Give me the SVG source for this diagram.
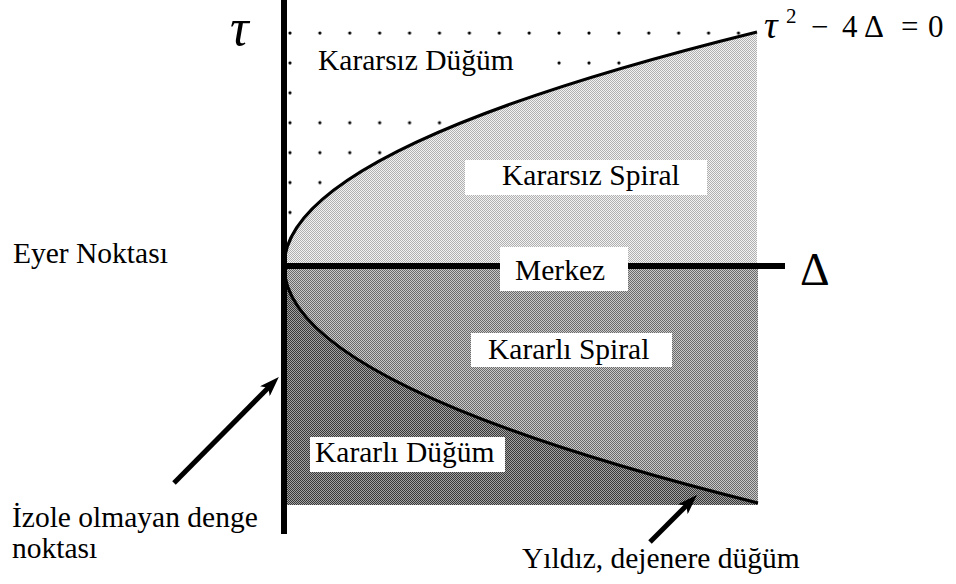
<svg xmlns="http://www.w3.org/2000/svg" width="956" height="584" viewBox="0 0 956 584">
<style>
text{font-family:'Liberation Serif','DejaVu Serif',serif}
.t{font-size:29.5px;fill:#000}
.box{fill:#fff}
.curve{fill:none;stroke:#000;stroke-width:3.2}
.axis{stroke:#000;stroke-width:6}
.arrow{stroke:#000;stroke-width:5;fill:none;marker-end:url(#ah)}
</style>
<defs>
<pattern id="dots" patternUnits="userSpaceOnUse" x="275" y="18" width="29.9" height="29.9">
<circle cx="15" cy="15" r="1.6" fill="#000"/>
</pattern>
<pattern id="light" patternUnits="userSpaceOnUse" x="0" y="0" width="2" height="2">
<rect width="2" height="2" fill="#f2f2f2"/>
<rect x="0" y="0" width="1" height="1" fill="#b0b0b0"/>
<rect x="1" y="1" width="1" height="1" fill="#b0b0b0"/>
</pattern>
<pattern id="medium" patternUnits="userSpaceOnUse" x="0" y="0" width="2" height="2">
<rect width="2" height="2" fill="#c8c8c8"/>
<rect x="0" y="0" width="1" height="1" fill="#6a6a6a"/>
<rect x="1" y="1" width="1" height="1" fill="#6a6a6a"/>
</pattern>
<pattern id="dark" patternUnits="userSpaceOnUse" x="0" y="0" width="2" height="2">
<rect width="2" height="2" fill="#a2a2a2"/>
<rect x="0" y="0" width="1" height="1" fill="#383838"/>
<rect x="1" y="1" width="1" height="1" fill="#383838"/>
</pattern>
<marker id="ah" viewBox="0 0 20 14" markerWidth="20" markerHeight="14" markerUnits="userSpaceOnUse" refX="6" refY="7" orient="auto">
<path d="M0,0 L20,7 L0,14 L5,7 Z" fill="#000"/>
</marker>
</defs>
<rect width="956" height="584" fill="#fff"/>

<g id="region-unstable-node">
<path d="M287 18 L762 18 L757 32 Q284 149 284 266 Z" fill="url(#dots)"/>
</g>
<g id="label-kararsiz-dugum">
<rect class="box" x="306" y="44" width="240" height="62"/>
<text class="t" x="318" y="70">Kararsız Düğüm</text>
</g>
<g id="region-unstable-spiral">
<path d="M757 32 Q284 149 284 266 L757 266 Z" fill="url(#light)"/>
</g>
<g id="region-stable-spiral">
<path d="M284 266 Q284 384.5 758 503 L758 266 Z" fill="url(#medium)"/>
</g>
<g id="region-stable-node">
<path d="M284 266 Q284 384.5 758 503 L758 505 L284 505 Z" fill="url(#dark)"/>
</g>

<g id="parabola">
<path class="curve" d="M757 32 Q284 149 284 266"/>
<path class="curve" d="M284 266 Q284 384.5 758 503"/>
</g>

<g id="axes">
<line class="axis" x1="284" y1="0" x2="284" y2="534"/>
<line class="axis" x1="284" y1="266" x2="785" y2="266"/>
<text x="230" y="45" font-style="italic" font-size="52">τ</text>
<text x="800" y="285" font-size="46">Δ</text>
</g>

<g id="equation">
<text font-size="31"><tspan x="764" y="38" font-style="italic" font-size="38">τ</tspan><tspan x="786" y="23" font-size="21">2</tspan><tspan x="811" y="37">−</tspan><tspan x="842" y="37">4</tspan><tspan x="864" y="37">Δ</tspan><tspan x="901" y="37">=</tspan><tspan x="928" y="37">0</tspan></text>
</g>

<g id="label-kararsiz-spiral">
<rect class="box" x="465" y="160" width="242" height="35"/>
<text class="t" x="502" y="185">Kararsız Spiral</text>
</g>
<g id="label-merkez">
<rect class="box" x="500" y="247" width="128" height="44"/>
<text class="t" x="515" y="280">Merkez</text>
</g>
<g id="label-kararli-spiral">
<rect class="box" x="471" y="333" width="201" height="34"/>
<text class="t" x="488" y="359">Kararlı Spiral</text>
</g>
<g id="label-kararli-dugum">
<rect class="box" x="310" y="437" width="195" height="35"/>
<text class="t" x="315" y="462">Kararlı Düğüm</text>
</g>

<g id="label-eyer">
<text class="t" x="13" y="263">Eyer Noktası</text>
</g>
<g id="label-izole">
<text class="t" x="12" y="527">İzole olmayan denge</text>
<text class="t" x="12" y="558">noktası</text>
</g>
<g id="label-yildiz">
<text class="t" x="522" y="568">Yıldız, dejenere düğüm</text>
</g>

<g id="connectors">
<line class="arrow" x1="174" y1="483" x2="269" y2="387"/>
<line class="arrow" x1="650" y1="542" x2="687" y2="505"/>
</g>
</svg>
